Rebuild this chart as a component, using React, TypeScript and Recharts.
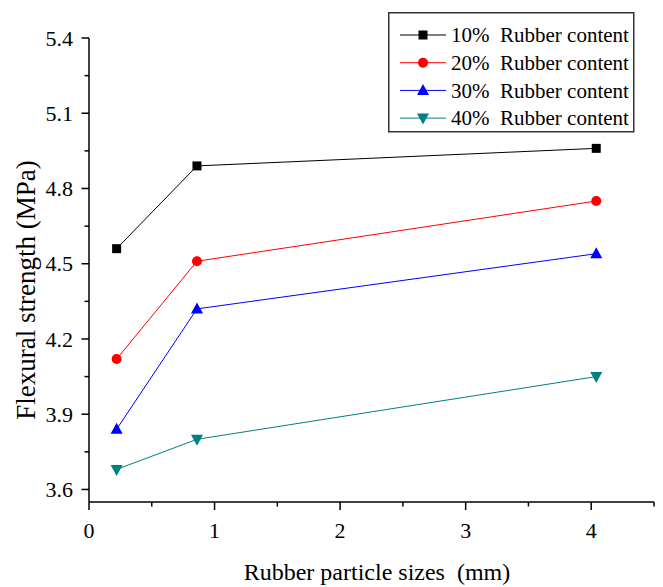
import React from 'react';
import { LineChart, Line, XAxis, YAxis } from 'recharts';

const particleSizes = [0.22, 0.86, 4.04];
const rubber10 = [4.56, 4.89, 4.96];
const rubber20 = [4.12, 4.51, 4.75];
const rubber30 = [3.84, 4.32, 4.54];
const rubber40 = [3.68, 3.8, 4.05];
const seriesNames = ['10%  Rubber content', '20%  Rubber content', '30%  Rubber content', '40%  Rubber content'];
const xTicks = [0, 0.5, 1, 1.5, 2, 2.5, 3, 3.5, 4, 4.5];
const yTicks = [3.6, 3.75, 3.9, 4.05, 4.2, 4.35, 4.5, 4.65, 4.8, 4.95, 5.1, 5.25, 5.4];

const FONT = "'Liberation Serif', 'Times New Roman', serif";

const data = particleSizes.map((x, i) => ({
  x,
  r10: rubber10[i],
  r20: rubber20[i],
  r30: rubber30[i],
  r40: rubber40[i],
}));

type MarkerKind = 'square' | 'circle' | 'up' | 'down';

const Marker = ({ cx, cy, kind, color }: { cx: number; cy: number; kind: MarkerKind; color: string }) => {
  if (kind === 'square') return <rect x={cx - 4.5} y={cy - 4.5} width={9} height={9} fill={color} />;
  if (kind === 'circle') return <circle cx={cx} cy={cy} r={5} fill={color} />;
  if (kind === 'up')
    return <polygon points={`${cx},${cy - 6.5} ${cx - 6},${cy + 4.5} ${cx + 6},${cy + 4.5}`} fill={color} />;
  return <polygon points={`${cx},${cy + 6.5} ${cx - 6},${cy - 4.5} ${cx + 6},${cy - 4.5}`} fill={color} />;
};

const series = [
  { key: 'r10', color: '#000000', kind: 'square' as MarkerKind },
  { key: 'r20', color: '#ff0000', kind: 'circle' as MarkerKind },
  { key: 'r30', color: '#0000ff', kind: 'up' as MarkerKind },
  { key: 'r40', color: '#008080', kind: 'down' as MarkerKind },
];

const textStyle = (size: number): React.CSSProperties => ({
  fontFamily: FONT,
  fontSize: size,
  whiteSpace: 'pre',
});

const XTick = (props: any) => {
  const { x, y, payload } = props;
  const v = payload.value;
  const major = Math.abs(v - Math.round(v)) < 1e-6;
  return (
    <g>
      <line x1={x} x2={x} y1={y} y2={y + (major ? 8 : 4.5)} stroke="#000" strokeWidth={1.5} />
      {major && (
        <text x={x} y={y + 36} textAnchor="middle" style={textStyle(22)} fill="#000">
          {String(v)}
        </text>
      )}
    </g>
  );
};

const YTick = (props: any) => {
  const { x, y, payload } = props;
  const v = payload.value;
  const major = Math.round(v * 100) % 30 === 0;
  return (
    <g>
      <line x1={x} x2={x - (major ? 7.5 : 4.5)} y1={y} y2={y} stroke="#000" strokeWidth={1.5} />
      {major && (
        <text x={x - 16} y={y} dy="0.35em" textAnchor="end" style={textStyle(22)} fill="#000">
          {v.toFixed(1)}
        </text>
      )}
    </g>
  );
};

const YTitle = () => {
  const cx = 18;
  const cy = 282;
  return (
    <text
      x={cx}
      y={cy}
      transform={`rotate(-90, ${cx}, ${cy})`}
      textAnchor="middle"
      dominantBaseline="central"
      style={textStyle(27)}
      fill="#000"
    >
      Flexural strength (MPa)
    </text>
  );
};

const XTitle = () => (
  <text x={369} y={572} textAnchor="middle" style={textStyle(24)} fill="#000">
    Rubber particle sizes  (mm)
  </text>
);

const LegendBox = () => (
  <svg width={247} height={121} style={{ position: 'absolute', left: 380, top: 4 }}>
    <rect x={0.75} y={0.75} width={245} height={119} fill="#fff" stroke="#333" strokeWidth={1.5} />
    {series.map((s, i) => {
      const cy = 23 + i * 27.7;
      return (
        <g key={s.key}>
          <line x1={12} x2={58} y1={cy} y2={cy} stroke={s.color} strokeWidth={1} />
          <Marker cx={35} cy={cy} kind={s.kind} color={s.color} />
          <text x={63} y={cy} dy="0.35em" style={textStyle(21)} fill="#000">
            {seriesNames[i]}
          </text>
        </g>
      );
    })}
  </svg>
);

export default function App() {
  return (
    <div style={{ position: 'relative', width: 655, height: 579, fontFamily: FONT }}>
      <LineChart width={655} height={579} data={data} margin={{ top: 30, right: 9, left: 0, bottom: 0 }}>
        <XAxis
          dataKey="x"
          type="number"
          domain={[0, 4.5]}
          ticks={xTicks}
          interval={0}
          allowDataOverflow
          height={85}
          tickSize={0}
          tickMargin={0}
          tickLine={false}
          axisLine={{ stroke: '#000', strokeWidth: 1.5 }}
          tick={(p: any) => <XTick {...p} />}
          label={<XTitle />}
        />
        <YAxis
          type="number"
          domain={[3.55, 5.4]}
          ticks={yTicks}
          interval={0}
          allowDataOverflow
          width={81}
          tickSize={0}
          tickMargin={0}
          tickLine={false}
          axisLine={{ stroke: '#000', strokeWidth: 1.5 }}
          tick={(p: any) => <YTick {...p} />}
          label={<YTitle />}
        />
        {series.map((s) => (
          <Line
            key={s.key}
            dataKey={s.key}
            type="linear"
            stroke={s.color}
            strokeWidth={1}
            isAnimationActive={false}
            dot={(p: any) => <Marker key={`${s.key}-${p.index}`} cx={p.cx} cy={p.cy} kind={s.kind} color={s.color} />}
            activeDot={false}
          />
        ))}
      </LineChart>
      <LegendBox />
    </div>
  );
}
